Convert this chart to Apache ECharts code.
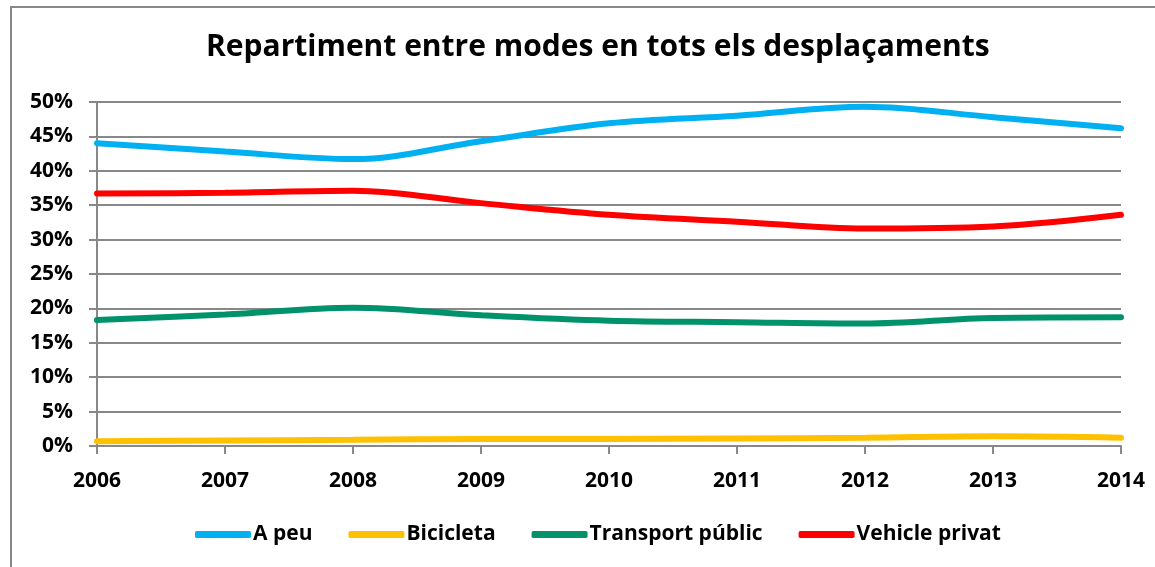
<!DOCTYPE html>
<html>
<head>
<meta charset="utf-8">
<script src="https://cdn.jsdelivr.net/npm/echarts@6/dist/echarts.min.js"></script>
<style>
    html, body { margin: 0; padding: 0; background: #fff; }
    #chart { width: 1155px; height: 567px; }
</style>
</head>
<body>
<div id="chart"></div>
<script>
    // dades llegides del gràfic (% de desplaçaments)
    var years = ['2006', '2007', '2008', '2009', '2010', '2011', '2012', '2013', '2014'];
    var aPeu = [44.0, 42.8, 41.7, 44.3, 46.9, 48.0, 49.3, 47.8, 46.2];
    var bicicleta = [0.7, 0.8, 0.9, 1.0, 1.0, 1.1, 1.2, 1.4, 1.2];
    var transportPublic = [18.3, 19.1, 20.1, 19.0, 18.2, 18.0, 17.8, 18.6, 18.7];
    var vehiclePrivat = [36.7, 36.8, 37.1, 35.3, 33.6, 32.6, 31.6, 31.9, 33.6];
    var yTicks = [0, 5, 10, 15, 20, 25, 30, 35, 40, 45, 50];

    var font = "'Open Sans', 'Liberation Sans', sans-serif";

    function serie(name, color, data) {
        return {
            name: name,
            type: 'line',
            smooth: 0.35,
            symbol: 'none',
            lineStyle: { width: 6, color: color, cap: 'round' },
            itemStyle: { color: color },
            data: data
        };
    }

    var option = {
        backgroundColor: '#fff',
        animation: false,
        title: {
            text: 'Repartiment entre modes en tots els desplaçaments',
            left: 201,
            top: 27,
            textStyle: { fontFamily: font, fontWeight: 'bold', fontSize: 30, color: '#000' }
        },
        graphic: [{
            type: 'rect',
            shape: { x: 11, y: 7, width: 1160, height: 580 },
            style: { fill: 'none', stroke: '#888', lineWidth: 2 },
            silent: true
        }],
        legend: {
            bottom: 17,
            left: 190,
            itemWidth: 56,
            itemHeight: 7,
            itemGap: 36,
            icon: 'roundRect',
            textStyle: { fontFamily: font, fontWeight: 'bold', fontSize: 21, color: '#000', padding: [0, 0, 0, -3] },
            data: ['A peu', 'Bicicleta', 'Transport públic', 'Vehicle privat']
        },
        grid: { left: 97, right: 34, top: 102, bottom: 121 },
        xAxis: {
            type: 'category',
            boundaryGap: false,
            data: years,
            axisLine: { lineStyle: { color: '#888', width: 2 } },
            axisTick: { show: true, length: 8, lineStyle: { color: '#888', width: 2 } },
            axisLabel: { fontFamily: font, fontWeight: 'bold', fontSize: 21, color: '#000', margin: 25 }
        },
        yAxis: {
            type: 'value',
            min: yTicks[0],
            max: yTicks[yTicks.length - 1],
            interval: 5,
            axisLine: { show: true, lineStyle: { color: '#888', width: 2 } },
            axisTick: { show: true, length: 8, lineStyle: { color: '#888', width: 2 } },
            splitLine: { lineStyle: { color: '#888', width: 2 } },
            axisLabel: {
                fontFamily: font, fontWeight: 'bold', fontSize: 21, color: '#000', margin: 24,
                formatter: function (v) { return v + '%'; }
            }
        },
        series: [
            serie('A peu', '#00b0f0', aPeu),
            serie('Bicicleta', '#ffc000', bicicleta),
            serie('Transport públic', '#00936b', transportPublic),
            serie('Vehicle privat', '#ff0000', vehiclePrivat)
        ]
    };

    var myChart = echarts.init(document.getElementById('chart'));
    myChart.setOption(option);
</script>
</body>
</html>
